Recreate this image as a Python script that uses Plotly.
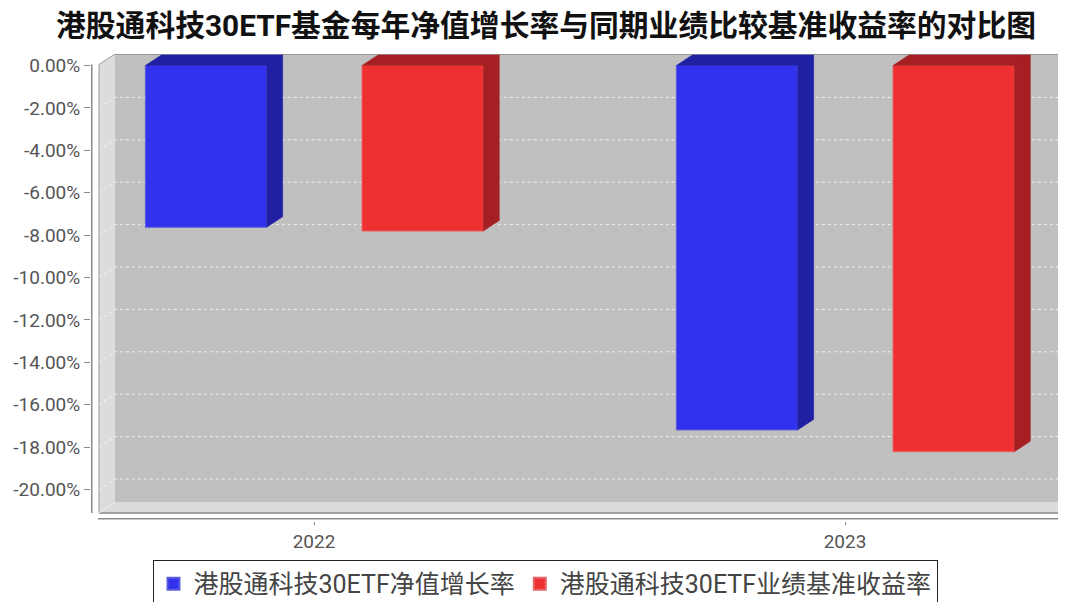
import plotly.graph_objects as go

# ---------------- data ----------------
years = ["2022", "2023"]
nav_growth = [-7.63, -17.19]        # 港股通科技30ETF净值增长率 (%)
benchmark_return = [-7.81, -18.22]  # 港股通科技30ETF业绩基准收益率 (%)
series_names = ["港股通科技30ETF净值增长率", "港股通科技30ETF业绩基准收益率"]
y_tick_values = [0, -2, -4, -6, -8, -10, -12, -14, -16, -18, -20]
y_tick_labels = [f"{v:.2f}%" for v in y_tick_values]
chart_title = "港股通科技30ETF基金每年净值增长率与同期业绩比较基准收益率的对比图"

# ---------------- style / geometry ----------------
FONT = "Roboto, 'Noto Sans CJK SC', sans-serif"
front_colors = ["#3131ee", "#ee3033"]
dark_colors = ["#2020a4", "#a61f22"]
edge_colors = ["#5d5ddc", "#e86466"]
BAR_W = 0.2285
OFFSETS = [-0.3176, 0.0904]
DDX = 0.0301          # 3D depth offset (x units)
DDY = 0.495           # 3D depth offset (y units)
XL = -0.4049          # front-left edge of the chart box
XR = 1.4087           # front-right edge of the chart box
YB = -21.11           # front-bottom edge of the chart box
YT = 0.047            # front-top edge of the chart box
X_RANGE = [-0.41996, 1.41620]
Y_RANGE = [-21.486, 0.5425]

x_pos = list(range(len(years)))
series_values = [nav_growth, benchmark_return]

fig = go.Figure()

# front faces of the bars
for name, vals, off, fc, ec in zip(series_names, series_values, OFFSETS, front_colors, edge_colors):
    fig.add_trace(go.Bar(
        x=x_pos, y=vals, base=0, width=BAR_W, offset=off, name=name,
        marker=dict(color=fc, line=dict(color=ec, width=1)),
        hoverinfo="skip",
    ))

# top and side faces (3D effect), derived from the data
for vals, off, dc in zip(series_values, OFFSETS, dark_colors):
    xs, ys = [], []
    for xp, v in zip(x_pos, vals):
        x0 = xp + off
        x1 = x0 + BAR_W
        # top face
        xs += [x0, x1, x1 + DDX, x0 + DDX, x0, None]
        ys += [0, 0, DDY, DDY, 0, None]
        # side face
        xs += [x1, x1 + DDX, x1 + DDX, x1, x1, None]
        ys += [0, DDY, v + DDY, v, 0, None]
    fig.add_trace(go.Scatter(
        x=xs, y=ys, mode="lines", fill="toself", fillcolor=dc,
        line=dict(color=dc, width=0.5), showlegend=False, hoverinfo="skip",
    ))

shapes = []
# back wall
shapes.append(dict(type="rect", xref="x", yref="y", layer="below",
                   x0=XL + DDX, x1=X_RANGE[1] + 0.2, y0=YB + DDY, y1=YT + DDY,
                   fillcolor="#c0c0c0", line=dict(width=0)))
# left wall
shapes.append(dict(type="path", xref="x", yref="y", layer="below",
                   path=f"M{XL},{YB} L{XL},{YT} L{XL + DDX},{YT + DDY} L{XL + DDX},{YB + DDY} Z",
                   fillcolor="#dcdcdc", line=dict(width=0)))
# floor
shapes.append(dict(type="path", xref="x", yref="y", layer="below",
                   path=f"M{XL},{YB} L{XL + DDX},{YB + DDY} L{XR + DDX},{YB + DDY} L{XR},{YB} Z",
                   fillcolor="#dcdcdc", line=dict(width=0)))
# gridlines on back wall + left wall
for v in y_tick_values[1:]:
    shapes.append(dict(type="path", xref="x", yref="y", layer="below",
                       path=f"M{XL},{v} L{XL + DDX},{v + DDY} L{X_RANGE[1] + 0.2},{v + DDY}",
                       line=dict(color="rgba(255,255,255,0.75)", width=1, dash="3px,3px")))
# box edges
edge = dict(color="#9a9a9a", width=1)
shapes.append(dict(type="line", xref="x", yref="y", layer="below",
                   x0=XL + DDX, x1=X_RANGE[1] + 0.2, y0=YT + DDY, y1=YT + DDY, line=dict(color="#8a8a8a", width=1.5)))
shapes.append(dict(type="line", xref="x", yref="y", layer="below",
                   x0=XL, x1=XL + DDX, y0=YT, y1=YT + DDY, line=edge))
shapes.append(dict(type="line", xref="x", yref="y", layer="below",
                   x0=XL, x1=XL, y0=YB, y1=YT, line=edge))
shapes.append(dict(type="line", xref="x", yref="y", layer="below",
                   x0=XL, x1=XR, y0=YB, y1=YB, line=dict(color="#8a8a8a", width=1.5)))
shapes.append(dict(type="line", xref="x", yref="y", layer="below",
                   x0=XR, x1=XR + DDX, y0=YB, y1=YB + DDY, line=edge))
shapes.append(dict(type="line", xref="x", yref="y", layer="below",
                   x0=XL, x1=XL + DDX, y0=YB, y1=YB + DDY, line=dict(color="#ececec", width=1)))
# y axis line
shapes.append(dict(type="line", xref="x", yref="y", layer="above",
                   x0=X_RANGE[0], x1=X_RANGE[0], y0=YB, y1=YT, line=dict(color="#8a8a8a", width=3)))
# x axis line
shapes.append(dict(type="line", xref="x", yref="y", layer="above",
                   x0=XL - 0.002, x1=XR, y0=-21.377, y1=-21.377, line=dict(color="#8a8a8a", width=1.5)))

fig.update_layout(
    width=1058, height=594,
    margin=dict(l=83, r=0, t=46, b=81, autoexpand=False),
    paper_bgcolor="white", plot_bgcolor="white",
    font=dict(family=FONT, color="#555555"),
    title=dict(text=chart_title, x=538 / 1058, xanchor="center", xref="container",
               y=1 - 18 / 594, yanchor="middle", yref="container",
               font=dict(family=FONT, size=29.8, color="#111111", weight="bold")),
    showlegend=True,
    legend=dict(orientation="h", x=(537 - 83) / 975, xanchor="center", y=-0.0835, yanchor="top",
                bgcolor="white", bordercolor="#222222", borderwidth=1,
                font=dict(family=FONT, size=25, color="#444444"),
                itemsizing="constant", traceorder="normal"),
    shapes=shapes,
    barmode="overlay",
)
fig.update_xaxes(range=X_RANGE, tickmode="array", tickvals=x_pos, ticktext=years,
                 showgrid=False, zeroline=False, showline=False,
                 ticks="outside", ticklen=3, tickcolor="#8a8a8a", ticklabelstandoff=0,
                 tickfont=dict(family=FONT, size=19, color="#555555"), fixedrange=True)
fig.update_yaxes(range=Y_RANGE, tickmode="array", tickvals=y_tick_values, ticktext=y_tick_labels,
                 showgrid=False, zeroline=False, showline=False,
                 ticks="outside", ticklen=6, tickcolor="#8a8a8a",
                 tickfont=dict(family=FONT, size=19, color="#555555"), fixedrange=True)

fig.write_html("out.html")
